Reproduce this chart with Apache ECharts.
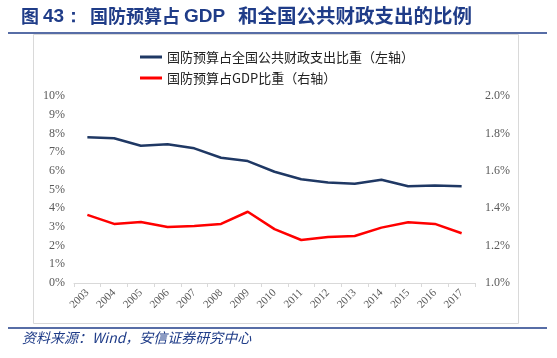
<!DOCTYPE html>
<html>
<head>
<meta charset="utf-8">
<script src="https://cdn.jsdelivr.net/npm/echarts@6/dist/echarts.min.js"></script>
<style>
html,body{margin:0;padding:0;background:#fff;}
#c{width:557px;height:358px;}
</style>
</head>
<body>
<div id="c"></div>
<script>
var categories = ['2003','2004','2005','2006','2007','2008','2009','2010','2011','2012','2013','2014','2015','2016','2017'];
var budgetShareOfSpending = [7.79, 7.74, 7.34, 7.42, 7.20, 6.70, 6.52, 5.95, 5.55, 5.38, 5.31, 5.52, 5.17, 5.22, 5.17];
var budgetShareOfGDP = [1.364, 1.316, 1.326, 1.299, 1.305, 1.316, 1.381, 1.288, 1.230, 1.246, 1.251, 1.296, 1.325, 1.316, 1.266];
var leftTicks = [0,1,2,3,4,5,6,7,8,9,10];
var rightTicks = [1.0,1.2,1.4,1.6,1.8,2.0];
var seriesNames = ['国防预算占全国公共财政支出比重（左轴）', '国防预算占GDP比重（右轴）'];

var navy = '#1F3864';
var titleBlue = '#1F3C88';
var chart = echarts.init(document.getElementById('c'), null, {renderer:'canvas'});
var serif = '"Liberation Serif","DejaVu Serif",serif';
var cjk = '"Noto Sans CJK SC","Noto Sans",sans-serif';
var titleFont = 'bold 18px ' + cjk;
var latinTitleFont = 'bold 19px Arial, "Liberation Sans", sans-serif';

chart.setOption({
  animation: false,
  graphic: [
    {type:'rect', silent:true, shape:{x:33.5, y:34.5, width:485, height:289}, style:{fill:'none', stroke:'#d9d9d9', lineWidth:1}},
    {type:'line', silent:true, shape:{x1:8, y1:33, x2:547, y2:33}, style:{stroke:titleBlue, lineWidth:1.5}},
    {type:'line', silent:true, shape:{x1:8, y1:328, x2:547, y2:328}, style:{stroke:titleBlue, lineWidth:1.5}},
    {type:'text', left:21, top:7, style:{text:'图', font:titleFont, fill:titleBlue}},
    {type:'text', left:43, top:7, style:{text:'43：', font:latinTitleFont, fill:titleBlue}},
    {type:'text', left:90, top:7, style:{text:'国防预算占', font:titleFont, fill:titleBlue}},
    {type:'text', left:184, top:7, style:{text:'GDP', font:latinTitleFont, fill:titleBlue}},
    {type:'text', left:238, top:6, style:{text:'和全国公共财政支出的比例', font:'bold 19.5px ' + cjk, fill:titleBlue}},
    {type:'text', left:22, top:331, style:{text:'资料来源：Wind，安信证券研究中心', font:'italic 14px ' + cjk, fill:titleBlue}}
  ],
  legend: {
    orient: 'vertical',
    left: 135,
    top: 45,
    icon: 'rect',
    itemWidth: 22,
    itemHeight: 3,
    itemGap: 7,
    textStyle: {fontFamily: cjk, fontSize: 13, color: '#222', lineHeight: 14},
    data: seriesNames
  },
  grid: {left: 74, right: 82, top: 96, bottom: 75, containLabel: false},
  xAxis: {
    type: 'category',
    data: categories,
    boundaryGap: true,
    axisLine: {lineStyle: {color: '#d9d9d9'}},
    axisTick: {show: true, lineStyle: {color: '#d9d9d9'}, length: 4},
    axisLabel: {rotate: 45, color: '#595959', fontFamily: serif, fontSize: 11, margin: 8}
  },
  yAxis: [
    {
      type: 'value', min: leftTicks[0], max: leftTicks[leftTicks.length-1], interval: 1,
      splitLine: {show: false}, axisLine: {show: false}, axisTick: {show: false},
      axisLabel: {formatter: '{value}%', color: '#595959', fontFamily: serif, fontSize: 12, margin: 9}
    },
    {
      type: 'value', min: rightTicks[0], max: rightTicks[rightTicks.length-1], interval: 0.2,
      splitLine: {show: false}, axisLine: {show: false}, axisTick: {show: false},
      axisLabel: {formatter: function(v){return v.toFixed(1) + '%';}, color: '#595959', fontFamily: serif, fontSize: 12, margin: 10}
    }
  ],
  series: [
    {name: seriesNames[0], type: 'line', yAxisIndex: 0, data: budgetShareOfSpending, symbol: 'none', lineStyle: {color: navy, width: 2.5}, itemStyle: {color: navy}},
    {name: seriesNames[1], type: 'line', yAxisIndex: 1, data: budgetShareOfGDP, symbol: 'none', lineStyle: {color: '#FF0000', width: 2.5}, itemStyle: {color: '#FF0000'}}
  ]
});
</script>
</body>
</html>
